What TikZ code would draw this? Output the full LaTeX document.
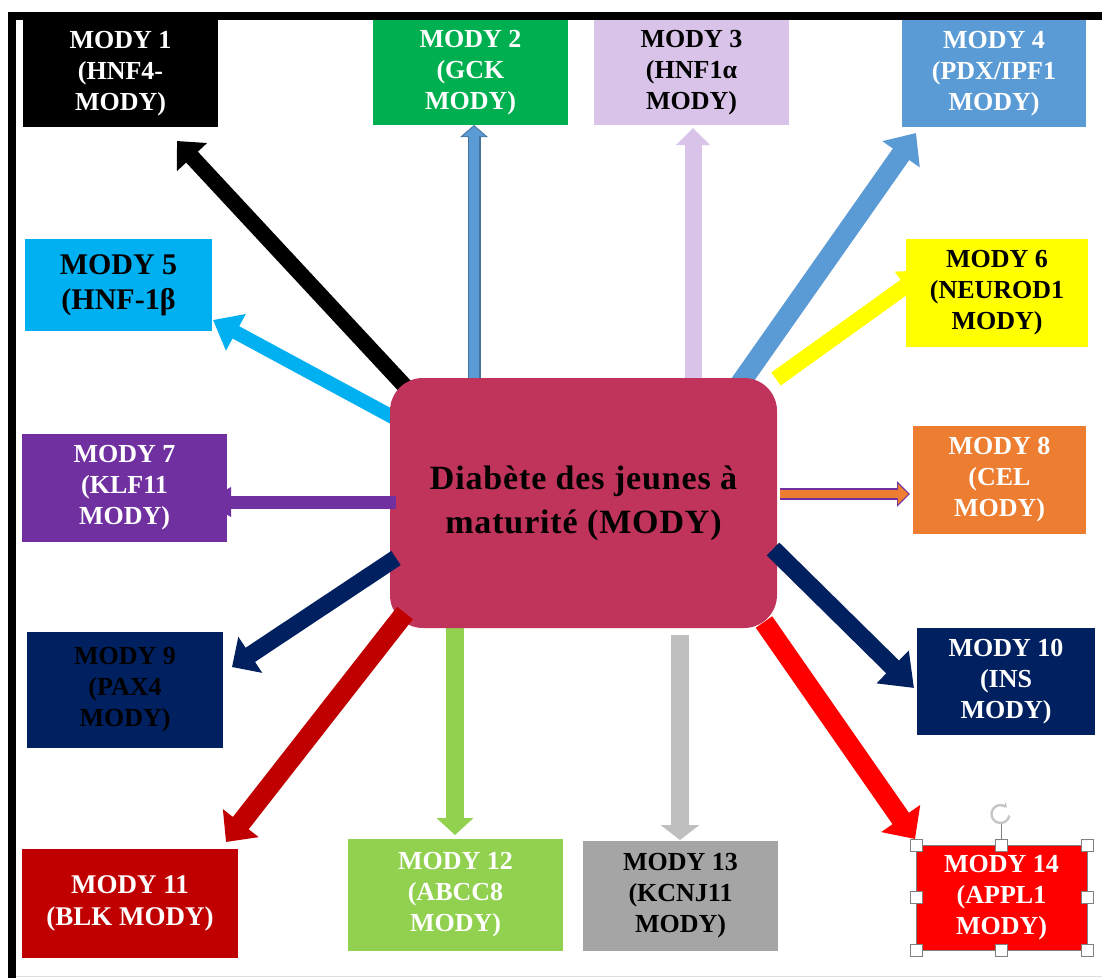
\documentclass[tikz,border=0pt]{standalone}
\usepackage{fontspec}
\setmainfont{Liberation Serif}
\usetikzlibrary{arrows.meta,calc}
\definecolor{cMain}{RGB}{192,52,92}
\definecolor{cGreenA}{HTML}{00B050}
\definecolor{cLav}{RGB}{217,195,233}
\definecolor{cBlue}{HTML}{5B9BD5}
\definecolor{cBlueD}{HTML}{41719C}
\definecolor{cCyan}{HTML}{00B0F0}
\definecolor{cYel}{HTML}{FFFF00}
\definecolor{cPurp}{HTML}{7030A0}
\definecolor{cOrg}{HTML}{ED7D31}
\definecolor{cNavy}{HTML}{002060}
\definecolor{cDRed}{HTML}{C00000}
\definecolor{cGreenB}{HTML}{92D050}
\definecolor{cGrayA}{HTML}{BFBFBF}
\definecolor{cGrayB}{HTML}{A5A5A5}
\definecolor{cRed}{HTML}{FF0000}
\newcommand\modyfont{\bfseries\fontsize{26}{31}\selectfont}
\newcommand\modyfontL{\bfseries\fontsize{30}{35}\selectfont}
\newcommand\modyfontM{\bfseries\fontsize{27}{32}\selectfont}
\newcommand\centrefont{\bfseries\fontsize{34}{44}\selectfont\addfontfeature{LetterSpace=2.5}}
\begin{document}
\begin{tikzpicture}[x=1pt,y=-1pt,
  mbox/.style={rectangle, inner sep=0pt, outer sep=0pt, align=center, text=white, font=\modyfont},
  barrow/.style n args={3}{line width=#1, -{Triangle[width=#2,length=#3]}},
  handle/.style={rectangle, draw=gray, fill=white, line width=0.8pt, minimum size=12pt, inner sep=0pt}]
\useasboundingbox (0,0) rectangle (1102,978);
\fill[white] (0,0) rectangle (1102,978);
% frame
\fill[black] (8,12) rectangle (1102,20);
\fill[black] (8,12) rectangle (16,978);
\draw[black!12, line width=1pt] (16,976.5) -- (1102,976.5);

% coordinates
\coordinate (s1) at (428,411);  \coordinate (t1) at (177,141);
\coordinate (s2) at (474,395);  \coordinate (t2) at (474,125);
\coordinate (s3) at (693,395);  \coordinate (t3) at (693,128);
\coordinate (s4) at (732,395);  \coordinate (t4) at (916,133);
\coordinate (s5) at (400,421);  \coordinate (t5) at (213,320);
\coordinate (s6) at (776,379);  \coordinate (t6) at (928,270);
\coordinate (s7) at (396,502);  \coordinate (t7) at (205,502);
\coordinate (s8) at (780,494);  \coordinate (t8) at (910,494);
\coordinate (s9) at (396,558);  \coordinate (t9) at (232,667);
\coordinate (s10) at (773,549); \coordinate (t10) at (914,688);
\coordinate (s11) at (405,613); \coordinate (t11) at (226,842);
\coordinate (s12) at (455,620); \coordinate (t12) at (455,835);
\coordinate (s13) at (680,635); \coordinate (t13) at (680,840);
\coordinate (s14) at (764,622); \coordinate (t14) at (915,839);

% arrows behind the central box
\draw[barrow={16pt}{40pt}{22pt}, draw=black, fill=black] (s1) -- (t1);
\draw[barrow={13pt}{27pt}{12pt}, draw=cBlueD] (s2) -- (t2);
\draw[barrow={10.5pt}{23pt}{10pt}, draw=cBlue, shorten >=1.4pt] (s2) -- (t2);
\draw[barrow={17pt}{33pt}{17pt}, draw=cLav] (s3) -- (t3);
\draw[barrow={20pt}{44pt}{26pt}, draw=cBlue] (s4) -- (t4);
\draw[barrow={14pt}{40pt}{26pt}, draw=cCyan] (s5) -- (t5);
\draw[barrow={18pt}{36pt}{17pt}, draw=cGreenB] (s12) -- (t12);

% central box
\node[rectangle, rounded corners=33pt, fill=cMain, minimum width=387pt, minimum height=250pt, inner sep=0pt, outer sep=0pt, font=\centrefont, text=black] (c) at (583.5,503)
  {\raisebox{13pt}{\begin{tabular}{@{}c@{}}Diabète des jeunes à\\maturité (MODY)\end{tabular}}};

% arrows over the central box
\draw[barrow={16pt}{34pt}{28pt}, draw=cYel] (s6) -- (t6);
\draw[barrow={13pt}{28pt}{26pt}, draw=cPurp] (s7) -- (t7);
\draw[barrow={12pt}{25pt}{13pt}, draw=cPurp] (s8) -- (t8);
\draw[barrow={8.6pt}{19.5pt}{10.5pt}, draw=cOrg, shorten >=1.6pt] (s8) -- (t8);
\draw[barrow={17pt}{42pt}{22pt}, draw=cNavy] (s9) -- (t9);
\draw[barrow={18pt}{44pt}{30pt}, draw=cNavy] (s10) -- (t10);
\draw[barrow={20pt}{44pt}{24pt}, draw=cDRed] (s11) -- (t11);
\draw[barrow={18pt}{38pt}{15pt}, draw=cGrayA] (s13) -- (t13);
\draw[barrow={20pt}{46pt}{25pt}, draw=cRed] (s14) -- (t14);

% MODY boxes
\node[mbox, fill=black, minimum width=195pt, minimum height=107pt] (m1) at (120.5,73.5) {MODY 1\\(HNF4-\\MODY)};
\node[mbox, fill=cGreenA, minimum width=195pt, minimum height=105pt] (m2) at (470.5,72.5) {MODY 2\\(GCK\\MODY)};
\node[mbox, fill=cLav, text=black, minimum width=195pt, minimum height=105pt] (m3) at (691.5,72.5) {MODY 3\\(HNF1α\\MODY)};
\node[mbox, fill=cBlue, minimum width=184pt, minimum height=107pt] (m4) at (994,73.5) {MODY 4\\(PDX/IPF1\\MODY)};
\node[mbox, fill=cCyan, text=black, font=\modyfontL, minimum width=187pt, minimum height=92pt] (m5) at (118.5,285) {MODY 5\\(HNF-1β};
\node[mbox, fill=cYel, text=black, minimum width=182pt, minimum height=108pt] (m6) at (997,293) {MODY 6\\(NEUROD1\\MODY)};
\node[mbox, fill=cPurp, minimum width=205pt, minimum height=108pt] (m7) at (124.5,488) {MODY 7\\(KLF11\\MODY)};
\node[mbox, fill=cOrg, minimum width=173pt, minimum height=108pt] (m8) at (999.5,480) {MODY 8\\(CEL\\MODY)};
\node[mbox, fill=cNavy, text=black, minimum width=196pt, minimum height=116pt] (m9) at (125,690) {MODY 9\\(PAX4\\MODY)};
\node[mbox, fill=cNavy, minimum width=178pt, minimum height=107pt] (m10) at (1006,681.5) {MODY 10\\(INS\\MODY)};
\node[mbox, fill=cDRed, font=\modyfontM, minimum width=216pt, minimum height=109pt] (m11) at (130,903.5) {MODY 11\\(BLK MODY)};
\node[mbox, fill=cGreenB, minimum width=215pt, minimum height=112pt] (m12) at (455.5,895) {MODY 12\\(ABCC8\\MODY)};
\node[mbox, fill=cGrayB, text=black, minimum width=195pt, minimum height=110pt] (m13) at (680.5,896) {MODY 13\\(KCNJ11\\MODY)};
\node[mbox, fill=cRed, draw=gray, line width=0.8pt, minimum width=171pt, minimum height=105pt] (m14) at (1001.5,897.5) {MODY 14\\(APPL1\\MODY)};

% selection handles of MODY 14
\coordinate (rot) at (1000.5,814);
\coordinate (rotb) at (1001.5,824);
\draw[gray, line width=0.8pt] (m14.north) -- (rotb);
\draw[gray!45, line width=2.4pt, -{Stealth[length=5pt,width=7pt]}] (rot) ++(10:9) arc[start angle=10, end angle=315, radius=9];
\node[handle] (h1) at (m14.north west) {};
\node[handle] (h2) at (m14.north) {};
\node[handle] (h3) at (m14.north east) {};
\node[handle] (h4) at (m14.west) {};
\node[handle] (h5) at (m14.east) {};
\node[handle] (h6) at (m14.south west) {};
\node[handle] (h7) at (m14.south) {};
\node[handle] (h8) at (m14.south east) {};
\end{tikzpicture}
\end{document}
